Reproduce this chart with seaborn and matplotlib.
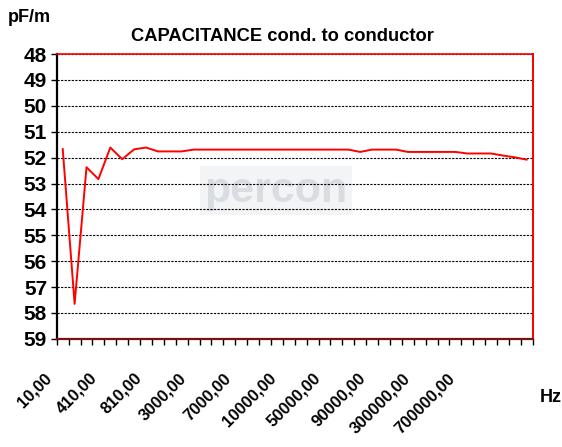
import numpy as np
import pandas as pd
import matplotlib.pyplot as plt
import seaborn as sns
from matplotlib.transforms import ScaledTranslation

# frequency categories (Hz) and measured capacitance (pF/m)
freq = [10, 110, 210, 310, 410, 510, 610, 710, 810, 910,
        1000, 2000, 3000, 4000, 5000, 6000, 7000, 8000, 9000, 9500,
        10000, 20000, 30000, 40000, 50000, 60000, 70000, 80000, 90000, 100000,
        150000, 200000, 300000, 400000, 500000, 600000, 700000, 800000, 900000, 1000000]
cap = [51.66, 57.65, 52.37, 52.83, 51.61, 52.06, 51.68, 51.61, 51.76, 51.76,
       51.76, 51.69, 51.69, 51.69, 51.69, 51.69, 51.69, 51.69, 51.69, 51.69,
       51.69, 51.69, 51.69, 51.69, 51.69, 51.78, 51.69, 51.69, 51.69, 51.78,
       51.78, 51.78, 51.78, 51.78, 51.84, 51.84, 51.84, 51.92, 51.99, 52.08]
y_ticks = list(range(48, 60))

labels = [f"{v:.2f}".replace('.', ',') for v in freq]
df = pd.DataFrame({'pos': np.arange(len(freq)), 'cap': cap})

sns.set_theme(style="white")
plt.rcParams['font.family'] = ['Liberation Sans', 'DejaVu Sans']
plt.rcParams['text.color'] = 'black'
plt.rcParams['xtick.color'] = 'black'
plt.rcParams['ytick.color'] = 'black'

fig = plt.figure(figsize=(5.62, 4.47), dpi=100)
ax = fig.add_axes([0.101, 0.242, 0.847, 0.637])

# watermark logo
ax.text(0.46, 0.52, 'percon', transform=ax.transAxes, ha='center', va='center',
        fontsize=31, fontweight='bold', color='#d9dde2', zorder=0,
        bbox=dict(boxstyle='square,pad=0.1', facecolor='#f3f4f6', edgecolor='none'))

sns.lineplot(data=df, x='pos', y='cap', color='red', lw=1.4, ax=ax, zorder=3)

ax.set_ylim(59, 48)
ax.set_xlim(-0.5, len(freq) - 0.5)
ax.set_yticks(y_ticks)
ax.set_yticklabels([str(t) for t in y_ticks], fontsize=15, fontweight='bold')
ax.grid(axis='y', color='black', linestyle=(0, (2, 1.2)), lw=0.8)
ax.grid(axis='x', visible=False)

ax.set_xticks(df['pos'][::4])
ax.set_xticklabels(labels[::4], rotation=45, ha='right', va='center',
                   rotation_mode='anchor', fontsize=12, fontweight='bold')
ax.set_xticks(np.arange(-0.5, len(freq)), minor=True)
ax.tick_params(axis='x', which='major', length=0, pad=0, bottom=True)
ax.tick_params(axis='x', which='minor', length=4, width=1, direction='out', bottom=True)
ax.tick_params(axis='y', which='major', length=4, width=1, direction='out', left=True, pad=3)
# excel places the rotated labels a little tighter than the ticks
for k, lab in enumerate(ax.get_xticklabels()):
    lab.set_transform(lab.get_transform() +
                      ScaledTranslation(-0.13 - 0.029 * k, -0.37, fig.dpi_scale_trans))

ax.set_xlabel('')
ax.set_ylabel('')
ax.spines['left'].set_color('black')
ax.spines['left'].set_linewidth(1.6)
ax.spines['bottom'].set_color('#7a1010')
ax.spines['bottom'].set_linewidth(1.6)
ax.spines['top'].set_color('red')
ax.spines['top'].set_linewidth(1.2)
ax.spines['right'].set_color('red')
ax.spines['right'].set_linewidth(1.4)

fig.text(0.014, 0.96, 'pF/m', fontsize=13, fontweight='bold', ha='left', va='center')
fig.text(0.503, 0.919, 'CAPACITANCE cond. to conductor', fontsize=13.2,
         fontweight='bold', ha='center', va='center')
fig.text(0.98, 0.11, 'Hz', fontsize=13, fontweight='bold', ha='center', va='center')

fig.savefig('out.png', dpi=100)
